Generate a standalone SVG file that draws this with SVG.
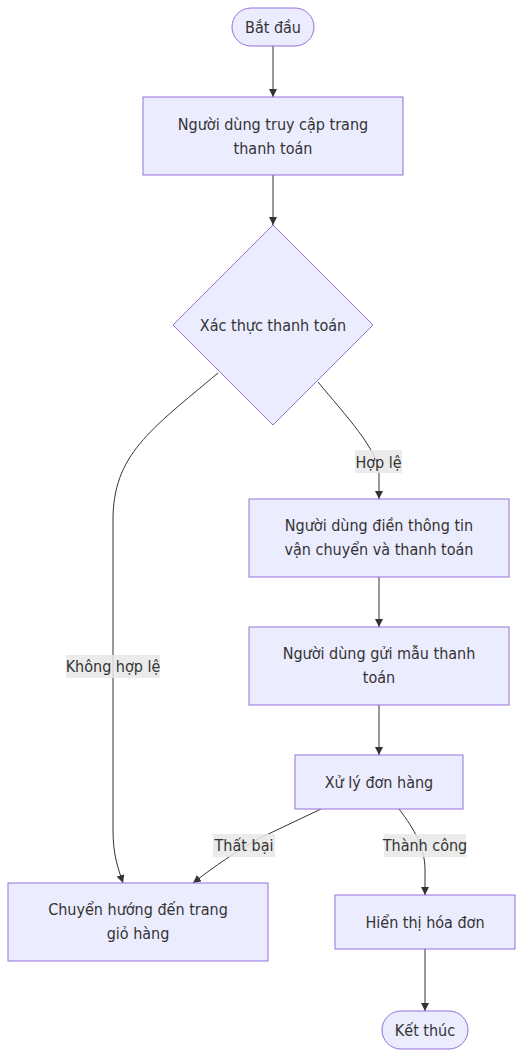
<svg xmlns="http://www.w3.org/2000/svg" width="523" height="1058" viewBox="0 0 523 1058">
<style>
.n{fill:#ECECFF;stroke:#9370DB;stroke-width:1}
.t{font-family:"DejaVu Sans Condensed","DejaVu Sans",Verdana,sans-serif;font-stretch:condensed;font-size:16px;fill:#333;text-anchor:middle;dominant-baseline:central}
.e{fill:none;stroke:#333;stroke-width:1}
.lb{fill:#e8e8e8;opacity:0.85}
</style>
<defs>
<marker id="a" viewBox="0 0 10 10" refX="10" refY="5" markerWidth="8" markerHeight="8" orient="auto" markerUnits="userSpaceOnUse">
<path d="M0,0 L10,5 L0,10 z" fill="#333"/>
</marker>
</defs>
<g id="edges">
<path class="e" d="M273,46 L273,97" marker-end="url(#a)"/>
<path class="e" d="M273,175 L273,225" marker-end="url(#a)"/>
<path class="e" d="M318,382 C345,415 379,450 379,475 L379,499" marker-end="url(#a)"/>
<path class="e" d="M218,373 C150,430 113,455 113,520 L113,830 C113,855 118,868 123,883" marker-end="url(#a)"/>
<path class="e" d="M379,577 L379,627" marker-end="url(#a)"/>
<path class="e" d="M379,705 L379,755" marker-end="url(#a)"/>
<path class="e" d="M321,809 L260,838 C235,852 215,866 193,883" marker-end="url(#a)"/>
<path class="e" d="M399,809 C415,830 425,848 425,870 L425,895" marker-end="url(#a)"/>
<path class="e" d="M425,949 L425,1011" marker-end="url(#a)"/>
<rect class="lb" x="355" y="450" width="47" height="23"/>
<text class="t" x="378.5" y="462">Hợp lệ</text>
<rect class="lb" x="66" y="655" width="94" height="23"/>
<text class="t" x="113" y="666">Không hợp lệ</text>
<rect class="lb" x="213" y="834" width="62" height="23"/>
<text class="t" x="244" y="845">Thất bại</text>
<rect class="lb" x="384" y="834" width="82" height="23"/>
<text class="t" x="425" y="845">Thành công</text>
</g>
<g id="start">
<rect class="n" x="232" y="8" width="82" height="38" rx="19"/>
<text class="t" x="273" y="27">Bắt đầu</text>
</g>
<g id="access">
<rect class="n" x="143" y="97" width="260" height="78"/>
<text class="t" x="273" y="124">Người dùng truy cập trang</text>
<text class="t" x="273" y="148">thanh toán</text>
</g>
<g id="validate">
<polygon class="n" points="273,225 373,325 273,425 173,325"/>
<text class="t" x="273" y="325">Xác thực thanh toán</text>
</g>
<g id="fill">
<rect class="n" x="249" y="499" width="260" height="78"/>
<text class="t" x="379" y="525">Người dùng điền thông tin</text>
<text class="t" x="379" y="549">vận chuyển và thanh toán</text>
</g>
<g id="submit">
<rect class="n" x="249" y="627" width="260" height="78"/>
<text class="t" x="379" y="653">Người dùng gửi mẫu thanh</text>
<text class="t" x="379" y="677">toán</text>
</g>
<g id="process">
<rect class="n" x="295" y="755" width="168" height="54"/>
<text class="t" x="379" y="782">Xử lý đơn hàng</text>
</g>
<g id="redirect">
<rect class="n" x="8" y="883" width="260" height="78"/>
<text class="t" x="138" y="909">Chuyển hướng đến trang</text>
<text class="t" x="138" y="933">giỏ hàng</text>
</g>
<g id="invoice">
<rect class="n" x="335" y="895" width="180" height="54"/>
<text class="t" x="425" y="922">Hiển thị hóa đơn</text>
</g>
<g id="end">
<rect class="n" x="382" y="1011" width="86" height="38" rx="19"/>
<text class="t" x="425" y="1030">Kết thúc</text>
</g>
</svg>
